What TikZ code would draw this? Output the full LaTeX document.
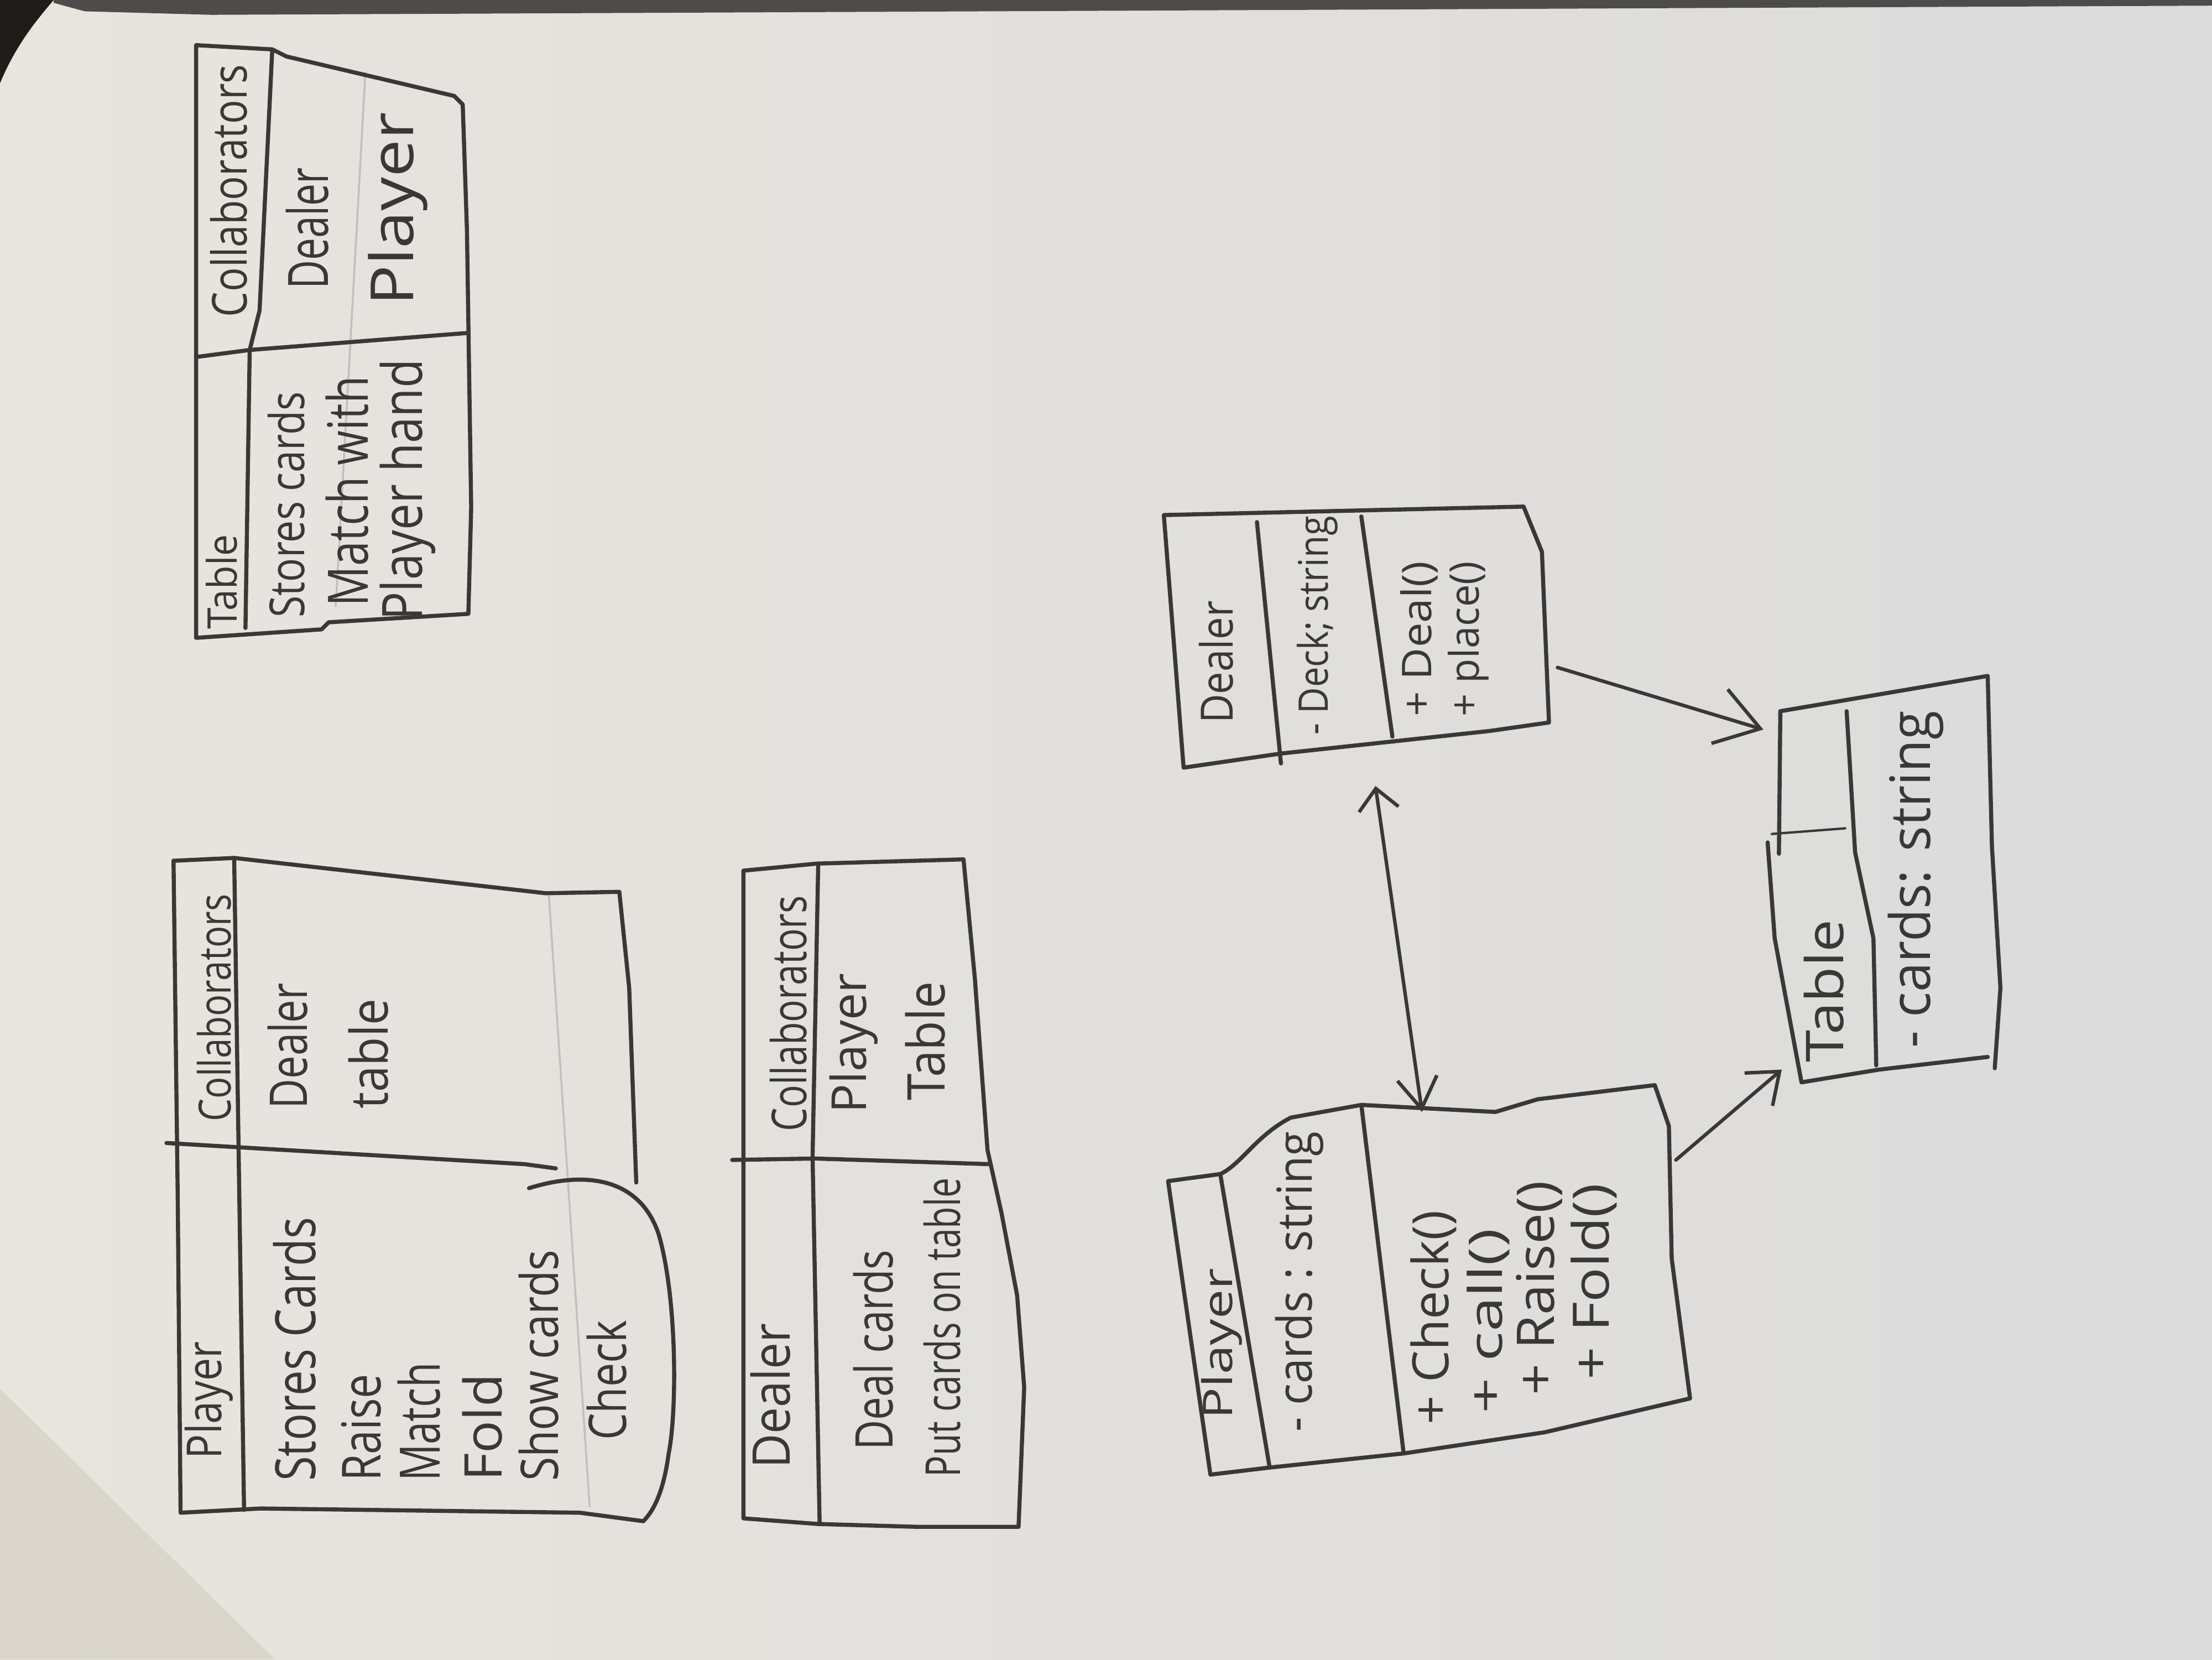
\documentclass[tikz,border=0pt]{standalone}
\usepackage{graphicx}
\usepackage{fontspec}
\setmainfont{Open Sans}
\usetikzlibrary{arrows.meta}
% one unit of the drawing grid
\newlength\gridpx
\setlength\gridpx{0.02551cm}
% handwritten line: length and letter height in grid units
\newcommand\hw[3]{\resizebox{#1\gridpx}{#2\gridpx}{#3}}
\definecolor{paperL}{HTML}{E8E5DE}
\definecolor{paperR}{HTML}{DBDBDC}
\definecolor{pencil}{HTML}{3A3836}
\definecolor{faint}{HTML}{C2C0BC}
\definecolor{foldtone}{HTML}{DBD6CC}
\definecolor{deskdark}{HTML}{1E1B19}
\definecolor{deskgrey}{HTML}{4E4C4A}
\begin{document}
\begin{tikzpicture}[x=0.02551cm, y=-0.02551cm,
  edge/.style={draw=pencil, line width=2.1pt, line join=round, line cap=round},
  thin edge/.style={draw=pencil, line width=1.2pt, line cap=round},
  crease/.style={draw=faint, line width=1pt},
  hand/.style={rotate=90, anchor=west, inner sep=0pt, text=pencil},
  link/.style={draw=pencil, line width=1.8pt, line cap=round},
]
\useasboundingbox (0,0) rectangle (1568,1176);

% ---------- sheet of paper ----------
\shade[left color=paperL, right color=paperR] (0,0) rectangle (1568,1176);
\fill[deskdark] (0,0) -- (38,0) .. controls (28,12) and (12,30) .. (0,59) -- cycle;
\fill[deskgrey] (38,0) -- (1568,0) -- (1568,4) -- (700,8) -- (150,10.5) -- (60,8) -- (38,2) -- cycle;
\fill[foldtone] (0,984) -- (195,1176) -- (0,1176) -- cycle;

% ---------- CRC card: Table ----------
\draw[crease] (259,51) -- (238,430);
\draw[edge] (139,32) -- (193,35) -- (203,40) -- (322,68) -- (328,74)
  -- (331,163) -- (334,360) -- (332,435) -- (233,441) -- (228,446) -- (139,452) -- cycle;
\draw[edge] (193,35) -- (184,220) -- (177,248) -- (174,445);
\draw[edge] (139,253) -- (177,248) -- (331,236);
\node[hand] (tcrcName) at (157,446) {\hw{67}{22}{Table}};
\node[hand] (tcrcCollab) at (162,225) {\hw{179}{26}{Collaborators}};
\node[hand] (tcrcR1) at (203,438) {\hw{160}{26}{Stores cards}};
\node[hand] (tcrcR2) at (246,430) {\hw{163}{30}{Match with}};
\node[hand] (tcrcR3) at (289,440) {\hw{185}{30}{Player hand}};
\node[hand] (tcrcC1) at (218,205) {\hw{86}{30}{Dealer}};
\node[hand] (tcrcC2) at (282,217) {\hw{137}{32}{Player}};

% ---------- CRC card: Player ----------
\draw[crease] (389,633) -- (418,1068);
\draw[edge] (123,610) -- (166,608) -- (387,633) -- (439,632) -- (446,700) -- (451,838);
\draw[edge] (123,610) -- (126,850) -- (128,1072) -- (185,1069) -- (411,1072) -- (456,1078);
\draw[edge] (375,842) .. controls (420,828) and (455,838) .. (467,875)
  .. controls (480,920) and (480,1000) .. (474,1030)
  .. controls (470,1060) and (462,1072) .. (456,1078);
\draw[edge] (166,608) -- (173,1070);
\draw[edge] (118,810) -- (372,825) -- (394,828);
\node[hand] (pcrcName) at (148,1034) {\hw{83}{26}{Player}};
\node[hand] (pcrcCollab) at (152,795) {\hw{161}{24}{Collaborators}};
\node[hand] (pcrcC1) at (204,786) {\hw{89}{28}{Dealer}};
\node[hand] (pcrcC2) at (261,786) {\hw{78}{28}{table}};
\node[hand] (pcrcR1) at (209,1050) {\hw{187}{30}{Stores Cards}};
\node[hand] (pcrcR2) at (256,1050) {\hw{76}{28}{Raise}};
\node[hand] (pcrcR3) at (297,1050) {\hw{84}{30}{Match}};
\node[hand] (pcrcR4) at (342,1050) {\hw{76}{28}{Fold}};
\node[hand] (pcrcR5) at (382,1050) {\hw{164}{28}{Show cards}};
\node[hand] (pcrcR6) at (430,1021) {\hw{85}{28}{Check}};

% ---------- CRC card: Dealer ----------
\draw[edge] (527,617) -- (579,612) -- (683,609) -- (691,693) -- (700,815) -- (710,860)
  -- (721,918) -- (726,983) -- (722,1082) -- (650,1082) -- (580,1080) -- (527,1076) -- cycle;
\draw[edge] (580,612) -- (576,820) -- (581,1080);
\draw[edge] (519,822) -- (578,821) -- (702,825);
\node[hand] (dcrcName) at (546,1041) {\hw{103}{28}{Dealer}};
\node[hand] (dcrcCollab) at (559,802) {\hw{167}{26}{Collaborators}};
\node[hand] (dcrcC1) at (605,789) {\hw{99}{26}{Player}};
\node[hand] (dcrcC2) at (656,780) {\hw{84}{28}{Table}};
\node[hand] (dcrcR1) at (619,1028) {\hw{142}{28}{Deal cards}};
\node[hand] (dcrcR2) at (668,1047) {\hw{212}{26}{Put cards on table}};

% ---------- class: Dealer ----------
\draw[edge] (825,365) -- (1080,359) -- (1093,391) -- (1098,512) -- (1056,518)
  -- (908,534) -- (839,544) -- cycle;
\draw[edge] (891,370) -- (908,541);
\draw[edge] (965,366) -- (987,522);
\node[hand] (dumlName) at (862,513) {\hw{87}{24}{Dealer}};
\node[hand] (dumlAttr) at (934,521) {\hw{155}{22}{- Deck; string}};
\node[hand] (dumlM1) at (1006,508) {\hw{110}{22}{+ Deal()}};
\node[hand] (dumlM2) at (1041,508) {\hw{110}{22}{+ place()}};

% ---------- class: Player ----------
\draw[edge] (828,837) -- (865,832) .. controls (880,825) and (890,805) .. (915,792)
  -- (965,783) -- (1060,788) -- (1090,779) -- (1173,769) -- (1183,798) -- (1185,892)
  -- (1198,991) -- (1095,1015) -- (995,1030) -- (900,1040) -- (858,1045) -- cycle;
\draw[edge] (865,832) -- (900,1040);
\draw[edge] (965,783) -- (995,1030);
\node[hand] (pumlName) at (866,1006) {\hw{107}{22}{Player}};
\node[hand] (pumlAttr) at (921,1015) {\hw{213}{26}{- cards : string}};
\node[hand] (pumlM1) at (1016,1010) {\hw{152}{27}{+ Check()}};
\node[hand] (pumlM2) at (1055,1002) {\hw{131}{25}{+ call()}};
\node[hand] (pumlM3) at (1091,989) {\hw{152}{27}{+ Raise()}};
\node[hand] (pumlM4) at (1130,978) {\hw{139}{27}{+ Fold()}};

% ---------- class: Table ----------
\draw[edge] (1262,504) -- (1409,479) -- (1412,600) -- (1418,700) -- (1414,757);
\draw[edge] (1262,504) -- (1261,605);
\draw[edge] (1253,597) -- (1258,665) -- (1277,767) -- (1332,758) -- (1409,749);
\draw[edge] (1309,504) -- (1315,604) -- (1328,665) -- (1330,755);
\draw[thin edge] (1256,591) -- (1308,587);
\node[hand] (tumlName) at (1293,753) {\hw{101}{28}{Table}};
\node[hand] (tumlAttr) at (1358,743) {\hw{239}{30}{- cards: string}};

% ---------- associations ----------
\coordinate (dealerFoot) at (975,557);
\coordinate (playerHead) at (1008,788);
\coordinate (dealerSide) at (1104,473);
\coordinate (tableSide) at (1250,517);
\coordinate (playerSide) at (1188,822);
\coordinate (tableFoot) at (1263,758);
\draw[link, {Straight Barb[length=0.38cm, width=0.72cm]}-{Straight Barb[length=0.56cm, width=0.72cm]}]
  (dealerFoot) -- (playerHead);
\draw[link, -{Straight Barb[length=0.77cm, width=1.02cm]}] (dealerSide) -- (tableSide);
\draw[link, -{Straight Barb[length=0.5cm, width=0.78cm]}] (playerSide) -- (tableFoot);
\end{tikzpicture}
\end{document}
